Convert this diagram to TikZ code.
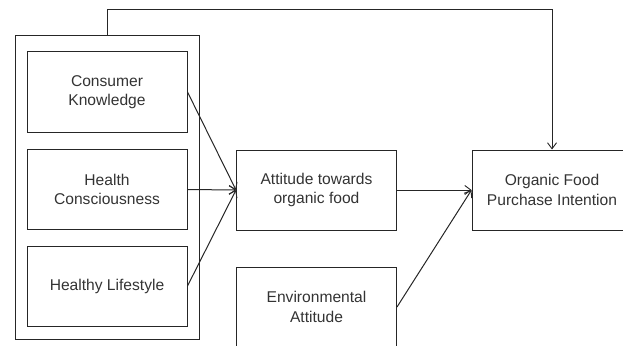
\documentclass[tikz,border=0pt]{standalone}
\usepackage{fontspec}
\setmainfont{Liberation Sans}
\usetikzlibrary{arrows.meta}
\definecolor{ln}{HTML}{262626}
\definecolor{tx}{HTML}{333333}
\tikzset{
  box/.style={draw=ln, line width=1pt, minimum width=160pt, minimum height=80pt, inner sep=0pt, align=center, text=tx, font=\fontsize{15.6}{19.5}\selectfont},
  conn/.style={draw=ln, line width=1pt, -{Straight Barb[length=6pt,width=9pt,line width=0.9pt]}}
}
\begin{document}
\begin{tikzpicture}[x=1pt,y=-1pt]
\useasboundingbox (0,0) rectangle (623,345);
\begin{scope}
\clip (0,0) rectangle (623,345);
\node[draw=ln, line width=1pt, minimum width=184pt, minimum height=303pt, inner sep=0pt] (outer) at (107,187.5) {};
\node[box] (ck) at (107,92) {Consumer\\Knowledge};
\node[box] (hc) at (107,189.5) {Health\\Consciousness};
\node[box] (hl) at (107,286) {Healthy Lifestyle};
\node[box] (at) at (316.5,190) {Attitude towards\\organic food};
\node[box] (env) at (316.5,307) {Environmental\\Attitude};
\node[box] (pi) at (552,190) {Organic Food\\Purchase Intention};
\coordinate (tl) at (107,10);
\coordinate (tr) at (552,10);
\draw[conn] (ck.east) -- (at.west);
\draw[conn] (hc.east) -- (at.west);
\draw[conn] (hl.east) -- (at.west);
\draw[conn] (at.east) -- (pi.west);
\draw[conn] (env.east) -- (pi.west);
\draw[conn] (outer.north) -- (tl) -- (tr) -- (pi.north);
\end{scope}
\end{tikzpicture}
\end{document}
